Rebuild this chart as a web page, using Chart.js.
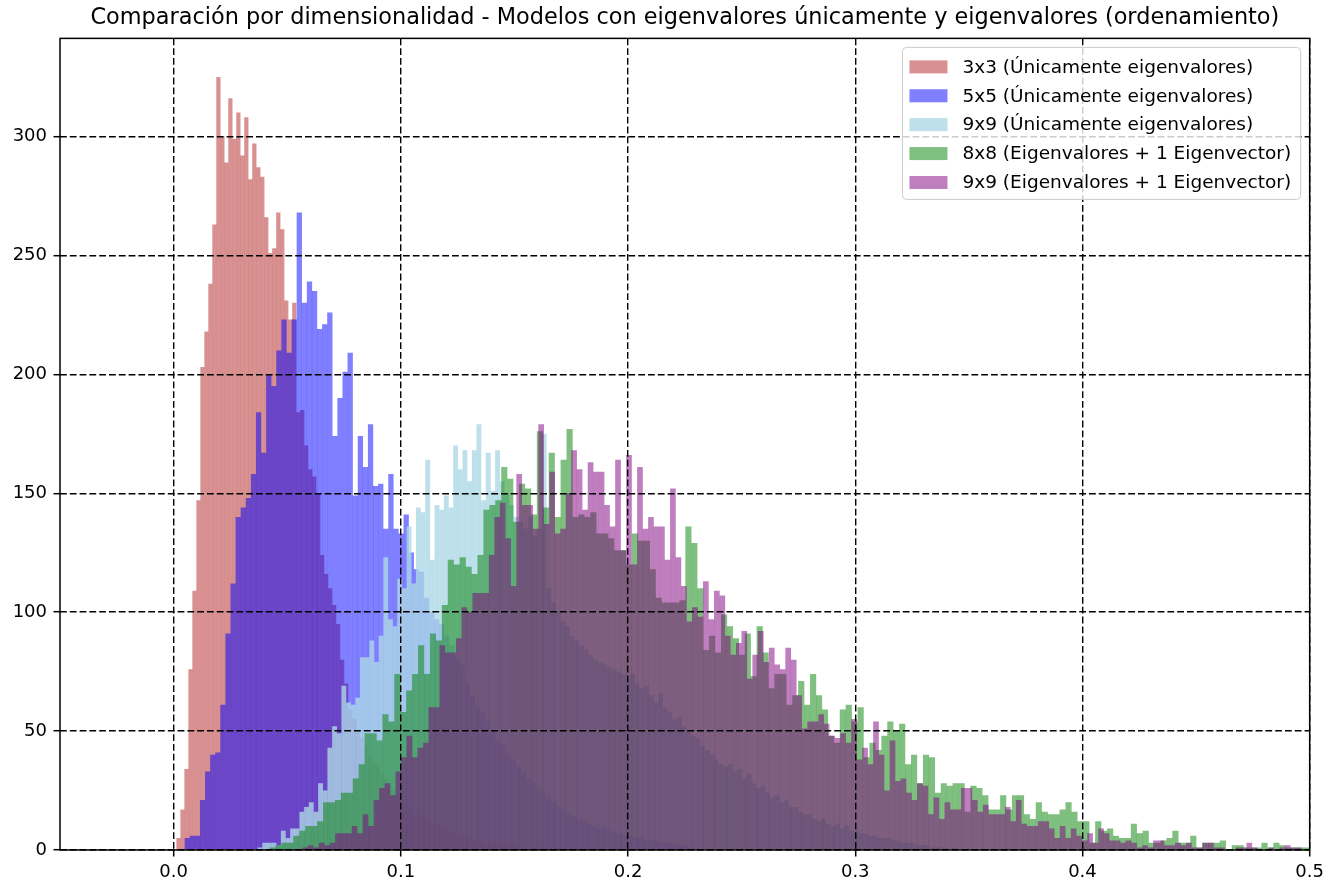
<!DOCTYPE html>
<html><head><meta charset="utf-8">
<script src="https://cdn.jsdelivr.net/npm/chart.js@4.4.0/dist/chart.umd.min.js"></script>
<style>html,body{margin:0;padding:0;background:#fff}#wrap{width:1329px;height:884px;position:relative}</style>
</head><body><div id="wrap"><canvas id="c"></canvas></div>
<script>
// ---------- DATA ----------
const titleText = 'Comparación por dimensionalidad - Modelos con eigenvalores únicamente y eigenvalores (ordenamiento)';
const seriesLabels = [
  '3x3 (Únicamente eigenvalores)',
  '5x5 (Únicamente eigenvalores)',
  '9x9 (Únicamente eigenvalores)',
  '8x8 (Eigenvalores + 1 Eigenvector)',
  '9x9 (Eigenvalores + 1 Eigenvector)'
];
const xTickValues = [0, 0.1, 0.2, 0.3, 0.4, 0.5];
const xTickLabels = ['0.0', '0.1', '0.2', '0.3', '0.4', '0.5'];
const yTickValues = [0, 50, 100, 150, 200, 250, 300];
const yTickLabels = ['0', '50', '100', '150', '200', '250', '300'];
const xMin = -0.05, xMax = 0.5, yMax = 341.25;

// histogram bins: first bin edge, bin width, counts
const red3x3Start = 0.00127, red3x3Width = 0.001757;
const red3x3Counts = [5,17,34,76,109,147,203,218,238,263,
 325,300,289,316,299,310,292,308,282,297,
 287,283,266,251,253,268,261,231,223,230,
 184,185,170,160,157,150,124,116,110,103,
 95,80,70,59,55,50,47,44,40,37,
 35,32,30,27,25,23,21,20,18,16,
 15,14,13,12,11,10,9,8,8,7,
 6,6,5,5,4,4,4,3,3,3,
 2,2,2,2,2,1,1,1,1,1,
 1,1,0,1,0,1,0,0,1,1];

const blue5x5Start = 0.00492, blue5x5Width = 0.00224;
const blue5x5Counts = [5,6,6,21,33,40,41,61,91,112,
 140,144,148,158,184,167,200,195,210,223,
 209,223,268,230,239,235,219,221,226,174,
 190,201,209,149,174,161,179,153,154,135,
 158,135,133,141,125,118,117,106,100,97,
 95,90,86,80,78,70,65,60,58,54,
 50,46,44,40,38,35,32,30,28,25,
 24,22,20,18,17,15,14,13,12,11,
 10,9,9,8,7,7,6,6,5,5,
 4,4,4,3,3,3,2,2,2,1];

const lb9x9Start = 0.0370, lb9x9Width = 0.00205;
const lb9x9Counts = [1,3,3,3,2,8,5,9,9,
 16,18,20,16,28,25,43,52,49,69,62,61,64,81,81,88,79,90,123,97,94,114,110,136,112,
 144,142,164,122,145,143,149,144,170,160,168,155,168,179,147,167,151,168,
 155,150,145,140,138,135,140,132,135,175,
 110,104,100,96,94,90,88,86,84,82,80,79,78,77,76,75,74,72,
 74,70,68,69,65,62,66,60,58,55,56,52,50,48,47,44,42,40,38,36,
 35,36,33,34,30,32,28,26,27,24,22,23,20,21,18,18,16,15,15,13,
 12,13,11,10,11,9,10,8,8,7,7,6,6,5,5,5,4,4,3,3,
 3,2,2,2,1,1,1,1,0,1];

const green8x8Start = 0.04228, green8x8Width = 0.002614;
const green8x8Counts = [1,2,3,3,6,
 8,10,10,12,20,20,21,24,24,30,36,49,49,46,57,54,74,
 58,67,74,86,74,91,88,103,122,120,123,119,116,124,143,145,147,
 161,156,138,154,152,141,176,144,167,140,164,177,140,141,140,142,133,
 133,131,126,126,120,133,130,130,118,106,104,104,104,105,136,129,110,
 84,90,83,99,94,89,82,91,73,94,83,68,74,74,61,65,71,
 61,74,65,59,48,45,59,61,54,60,39,45,42,48,54,50,53,
 36,40,28,40,39,24,28,27,28,28,16,27,26,23,17,17,23,
 17,23,23,15,13,20,16,15,15,17,20,16,12,12,3,12,8,
 9,6,5,5,11,7,8,3,3,4,5,8,3,3,6,1,3,
 3,3,4,0,2,2,1,1,1,3,1,3,2,1,1,1,1];

const purple9x9Start = 0.05425, purple9x9Width = 0.002416;
const purple9x9Counts = [0,1,
 2,1,3,2,3,7,7,7,10,7,15,10,21,26,28,23,33,
 39,48,39,43,45,60,60,86,83,83,89,102,100,108,108,108,124,
 140,146,131,111,158,145,145,135,179,137,159,133,135,150,168,160,143,
 163,159,159,145,136,164,126,166,120,161,135,140,136,136,122,152,123,
 111,96,102,98,113,97,109,107,90,82,87,92,72,82,92,79,85,
 78,76,85,80,65,51,54,54,57,53,48,47,49,45,55,38,43,
 36,54,40,25,46,29,30,24,21,28,27,15,22,13,20,17,17,
 26,26,21,16,19,15,15,15,18,12,21,11,10,10,12,12,9,
 5,10,5,9,6,4,7,3,9,7,4,4,3,4,3,1,2,
 1,4,4,2,2,3,2,3,1,1,3,3,1,1,0,0,1,
 1,3,1,0,0,1,0,1,2,1,1,0];

// ---------- STYLE ----------
const seriesColors = [
  'rgba(178,34,34,0.5)',
  'rgba(0,0,255,0.5)',
  'rgba(173,216,230,0.8)',
  'rgba(0,128,0,0.5)',
  'rgba(128,0,128,0.5)'
];
const FONT = 'DejaVu Sans';

function binPoints(counts, start, width) {
  return counts.map((c, i) => ({ x: start + (i + 0.5) * width, y: c }));
}

const seriesBins = [
  [red3x3Counts, red3x3Start, red3x3Width, 'x'],
  [blue5x5Counts, blue5x5Start, blue5x5Width, 'xb'],
  [lb9x9Counts, lb9x9Start, lb9x9Width, 'xl'],
  [green8x8Counts, green8x8Start, green8x8Width, 'xg'],
  [purple9x9Counts, purple9x9Start, purple9x9Width, 'xp']
];

const datasets = seriesBins.map((s, i) => ({
  type: 'bar',
  label: seriesLabels[i],
  data: binPoints(s[0], s[1], s[2]),
  xAxisID: s[3],
  yAxisID: 'y',
  backgroundColor: seriesColors[i],
  borderWidth: 0,
  barPercentage: 1,
  categoryPercentage: 1,
  grouped: false,
  inflateAmount: 0.1,
  order: 5 - i
}));

const hiddenX = () => ({ type: 'linear', min: xMin, max: xMax, display: false, offset: false, grid: { offset: false } });

const frameLegend = {
  id: 'frameLegend',
  afterDraw(chart) {
    const ctx = chart.ctx, a = chart.chartArea;
    ctx.save();
    // spines
    ctx.strokeStyle = '#000';
    ctx.lineWidth = 1.5;
    ctx.setLineDash([]);
    ctx.strokeRect(a.left, a.top, a.right - a.left, a.bottom - a.top);
    // legend
    const fs = 18.5;
    ctx.font = fs + 'px "' + FONT + '"';
    let maxW = 0;
    chart.data.datasets.forEach(d => { maxW = Math.max(maxW, ctx.measureText(d.label).width); });
    const pad = 7, handle = 38, gap = 15, padR = 9.5, rowStep = 28.9;
    const boxW = pad + handle + gap + maxW + padR;
    const boxH = 152;
    const right = a.right - 9, left = right - boxW, top = a.top + 9;
    ctx.beginPath();
    if (ctx.roundRect) ctx.roundRect(left, top, boxW, boxH, 4); else ctx.rect(left, top, boxW, boxH);
    ctx.fillStyle = 'rgba(255,255,255,0.8)';
    ctx.fill();
    ctx.strokeStyle = '#cccccc';
    ctx.lineWidth = 1;
    ctx.stroke();
    chart.data.datasets.forEach((d, i) => {
      const cy = top + 19.5 + i * rowStep;
      ctx.fillStyle = d.backgroundColor;
      ctx.fillRect(left + pad, cy - 6.5, handle, 13);
      ctx.fillStyle = '#000';
      ctx.textBaseline = 'middle';
      ctx.textAlign = 'left';
      ctx.fillText(d.label, left + pad + handle + gap, cy + 1);
    });
    ctx.restore();
  }
};

const gridCommon = {
  color: '#000',
  lineWidth: 1.4,
  z: 1,
  offset: false,
  drawTicks: true,
  tickLength: 6.5,
  tickWidth: 1.5,
  tickColor: '#000',
  tickBorderDash: [],
  borderDash: [6.8, 3]
};

new Chart(document.getElementById('c'), {
  data: { datasets },
  options: {
    responsive: true,
    maintainAspectRatio: false,
    animation: false,
    devicePixelRatio: 1,
    layout: { padding: { left: 0, right: 17, top: 0, bottom: 0 } },
    plugins: {
      legend: { display: false },
      tooltip: { enabled: false },
      title: {
        display: true,
        text: titleText,
        fullSize: false,
        color: '#000',
        font: { family: FONT, size: 22.4, weight: 'normal' },
        padding: { top: 5, bottom: 6.5 }
      }
    },
    scales: {
      x: {
        type: 'linear', min: xMin, max: xMax, offset: false,
        grid: gridCommon,
        border: { display: false, dash: [6.8, 3] },
        afterBuildTicks: ax => { ax.ticks = xTickValues.map(v => ({ value: v })); },
        afterFit: ax => { ax.height = 34; },
        ticks: {
          color: '#000', font: { family: FONT, size: 18 }, padding: 5,
          maxRotation: 0, autoSkip: false,
          callback: v => { const i = xTickValues.findIndex(t => Math.abs(t - v) < 1e-9); return i >= 0 ? xTickLabels[i] : ''; }
        }
      },
      xb: hiddenX(), xl: hiddenX(), xg: hiddenX(), xp: hiddenX(),
      y: {
        type: 'linear', min: 0, max: yMax,
        grid: gridCommon,
        border: { display: false, dash: [6.8, 3] },
        afterBuildTicks: ax => { ax.ticks = yTickValues.map(v => ({ value: v })); },
        afterFit: ax => { ax.width = 60; },
        ticks: {
          color: '#000', font: { family: FONT, size: 18 }, padding: 6.5,
          autoSkip: false,
          callback: v => { const i = yTickValues.indexOf(v); return i >= 0 ? yTickLabels[i] : ''; }
        }
      }
    }
  },
  plugins: [frameLegend]
});
</script>
</body></html>
